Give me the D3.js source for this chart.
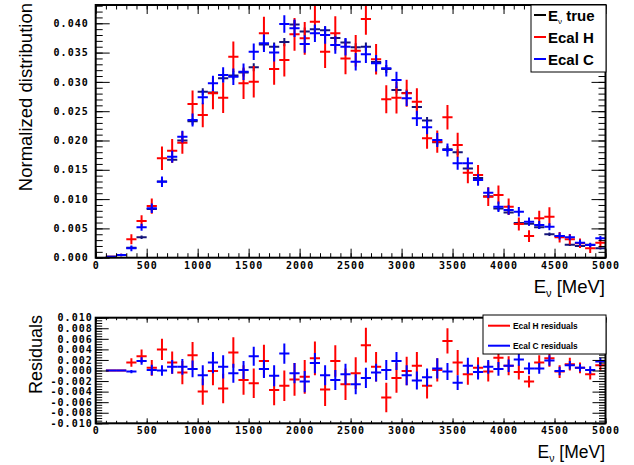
<!DOCTYPE html>
<html><head><meta charset="utf-8">
<script src="https://cdn.jsdelivr.net/npm/d3@7"></script>
<style>body{margin:0;background:#fff}svg{display:block}</style>
</head><body>
<svg id="c" width="634" height="465"></svg>
<script>
// ---- data (bin centers every 100 MeV, bin width 100) ----
const binCenters = d3.range(50, 5000, 100);
const binWidth = 100;
const trueVals = [0,0.00017,0.00046,0.0017,0.0035,0.0083,0.0130,0.0167,0.0200,0.0233,0.0283,0.0282,0.0306,0.0311,0.0316,0.0325,0.0364,0.0360,0.0368,0.0398,0.0386,0.0390,0.0388,0.0375,0.0367,0.0359,0.0360,0.0334,0.0322,0.0286,0.0281,0.0257,0.0234,0.0197,0.0185,0.0180,0.0152,0.0136,0.0105,0.0084,0.0077,0.0059,0.0058,0.0052,0.0040,0.0037,0.0022,0.0020,0.0022,0.0016];
const redVals = [0,0.00017,0.00046,0.00314,0.00626,0.00882,0.01696,0.01826,0.01963,0.02623,0.02435,0.02805,0.0273,0.0343,0.02976,0.03003,0.0383,0.0322,0.03374,0.03812,0.03744,0.04027,0.03515,0.0383,0.034,0.03532,0.04073,0.03386,0.02703,0.0273,0.02805,0.02662,0.02038,0.0198,0.02396,0.01923,0.0145,0.01411,0.01041,0.0107,0.0087,0.00575,0.0037,0.00672,0.007,0.00348,0.00314,0.00246,0.0016,0.00256];
const redErr = [0,0.0001,0.0002,0.00085,0.001,0.0013,0.002,0.002,0.0019,0.0023,0.0021,0.0027,0.0026,0.0026,0.0027,0.0027,0.0028,0.0027,0.0028,0.0028,0.0028,0.0028,0.0028,0.0029,0.0027,0.0027,0.0027,0.0026,0.0024,0.0027,0.0023,0.0023,0.0018,0.0019,0.0021,0.0021,0.0018,0.0017,0.0016,0.0016,0.0014,0.0011,0.001,0.0013,0.0016,0.0009,0.0009,0.0008,0.0008,0.0008];
const blueVals = [0,0.00017,0.00046,0.0016,0.0052,0.00843,0.01297,0.01724,0.02065,0.0235,0.02737,0.02976,0.03118,0.03089,0.03174,0.03515,0.03659,0.035,0.03988,0.03915,0.03647,0.03829,0.038,0.0363,0.036,0.03345,0.03471,0.03317,0.03232,0.03032,0.0272,0.02379,0.02225,0.02009,0.01838,0.01611,0.01611,0.01326,0.01109,0.0087,0.00814,0.00785,0.00614,0.00558,0.00529,0.0037,0.00348,0.00256,0.00217,0.00331];
const blueErr = [0,0.0001,0.0002,0.0005,0.0006,0.0008,0.0009,0.001,0.001,0.0011,0.0012,0.0013,0.0013,0.0014,0.0014,0.0014,0.0015,0.0015,0.0015,0.0015,0.0015,0.0015,0.0015,0.0015,0.0015,0.0015,0.0015,0.0014,0.0014,0.0014,0.0013,0.0013,0.0012,0.0012,0.0011,0.0011,0.001,0.001,0.0009,0.0009,0.0008,0.0008,0.0007,0.0007,0.0006,0.0006,0.0005,0.0005,0.0004,0.0004];
const trueErr = [0,0.00005,0.0001,0.0002,0.0003,0.0004,0.0005,0.0005,0.0006,0.0006,0.0006,0.0006,0.0007,0.0007,0.0007,0.0007,0.0007,0.0007,0.0007,0.0007,0.0007,0.0007,0.0007,0.0007,0.0007,0.0007,0.0007,0.0007,0.0007,0.0006,0.0006,0.0006,0.0006,0.0005,0.0005,0.0005,0.0005,0.0004,0.0004,0.0004,0.0003,0.0003,0.0003,0.0003,0.0003,0.0002,0.0002,0.0002,0.0002,0.0002];
const redRes = [0,0,0,0.0015,0.0027,0.0005,0.004,0.0015,-0.0004,0.0029,-0.004,-0.0001,-0.0034,0.0034,-0.0018,-0.0024,0.0018,-0.0037,-0.0029,-0.0017,-0.0012,0.0023,-0.0036,0.0018,-0.0026,-0.0005,0.0048,0.0007,-0.0051,-0.0014,-0.0001,0.0009,-0.0029,0.0001,0.0056,0.0015,-0.0007,0.0005,-0.0002,0.0024,0.0009,-0.0003,-0.0021,0.0015,0.0023,-0.0002,0.0012,0.0005,-0.0007,0.001];
const redResErr = [0,0,0.0001,0.0008,0.0013,0.0015,0.002,0.0021,0.0022,0.0025,0.0025,0.0027,0.0028,0.0029,0.0028,0.0028,0.0031,0.0029,0.0029,0.0031,0.0032,0.0032,0.0031,0.003,0.003,0.003,0.0033,0.0028,0.0028,0.0028,0.0027,0.0026,0.0024,0.0022,0.0024,0.0024,0.002,0.002,0.0019,0.0019,0.0018,0.0014,0.0011,0.0014,0.0016,0.0012,0.0012,0.001,0.001,0.001];
const blueRes = [0,0,0,-0.0002,0.0018,0.0001,0,0.0007,0.0007,0.0003,-0.0009,0.0015,0.0007,-0.0005,0.0001,0.0027,0.0003,-0.001,0.0032,-0.0005,-0.0021,0.0014,-0.0009,-0.0018,-0.0007,-0.0026,-0.0014,-0.0004,0.0001,0.0018,-0.0009,-0.0019,-0.0013,0.0004,-0.0002,-0.0023,0.0009,-0.0003,0.0007,0.0003,0.0009,0.0021,0.0004,0.0004,0.0019,-0.0001,0.001,0.0005,0.0001,0.0017];
const blueResErr = [0,0,0.0001,0.0003,0.0007,0.001,0.001,0.0013,0.0015,0.0016,0.0019,0.002,0.0022,0.0018,0.0017,0.0018,0.0017,0.002,0.0019,0.0019,0.002,0.0019,0.0019,0.0019,0.002,0.0019,0.0019,0.0017,0.0019,0.0017,0.0019,0.0017,0.0017,0.0019,0.0016,0.0014,0.0015,0.0014,0.0013,0.0013,0.0012,0.0012,0.0011,0.001,0.001,0.0008,0.0008,0.0007,0.0007,0.0007];

const xTicks = [0,500,1000,1500,2000,2500,3000,3500,4000,4500,5000];
const yTopTicks = [0,0.005,0.010,0.015,0.020,0.025,0.030,0.035,0.040];
const yBotTicks = [-0.010,-0.008,-0.006,-0.004,-0.002,0,0.002,0.004,0.006,0.008,0.010];
const legendTop = ["true","Ecal H","Ecal C"];
const legendBot = ["Ecal H residuals","Ecal C residuals"];

// ---- layout ----
const svg = d3.select("#c");
const L = 95.7, R = 605.5;
const x = d3.scaleLinear().domain([0,5000]).range([L,R]);
const yT = d3.scaleLinear().domain([0,0.04312]).range([257.7,5]);
const yB = d3.scaleLinear().domain([-0.010,0.010]).range([423.3,317.7]);
const tickFont = "'DejaVu Sans Mono', monospace";

function clip(id, y0, y1){
  svg.append("clipPath").attr("id",id).append("rect")
    .attr("x",L).attr("y",y0).attr("width",R-L).attr("height",y1-y0);
}
clip("cT",5,257.7); clip("cB",317.7,423.3);

function drawSeries(g, y, vals, errs, color, skipZero){
  const data = binCenters.map((c,i)=>({c, v:vals[i], e:errs[i], i})).filter(d=> d.i>0 && (!skipZero || d.v>0));
  const s = g.append("g").attr("stroke",color).attr("stroke-width",2).attr("fill","none");
  s.selectAll("line.h").data(data).join("line").attr("class","h")
    .attr("x1",d=>x(d.c-binWidth/2)).attr("x2",d=>x(d.c+binWidth/2))
    .attr("y1",d=>y(d.v)).attr("y2",d=>y(d.v));
  s.selectAll("line.v").data(data.filter(d=>d.e>0)).join("line").attr("class","v")
    .attr("x1",d=>x(d.c)).attr("x2",d=>x(d.c))
    .attr("y1",d=>y(d.v-d.e)).attr("y2",d=>y(d.v+d.e));
}

function styleAxis(g, sw){
  g.select(".domain").remove();
  g.selectAll("line").attr("stroke","#000").attr("stroke-width",sw||1);
  g.selectAll("text").attr("font-family",tickFont).attr("font-weight","bold")
    .attr("font-size","10px").attr("letter-spacing","1px").attr("fill","#000");
}

function minorRange(a,b,step){ const r=[]; for(let v=a; v<=b+1e-9; v+=step) r.push(+v.toFixed(6)); return r; }

function panel(y, y0, y1, yTicks, yMinor, xLen, yMajLen, yMinLen, yPad, fmtY){
  const gx = svg.append("g").attr("transform",`translate(0,${y0})`);
  gx.call(d3.axisBottom(x).tickValues(xTicks).tickSizeInner(-xLen).tickSizeOuter(0).tickPadding(4).tickFormat(d3.format("d")));
  styleAxis(gx);
  const gxm = svg.append("g").attr("transform",`translate(0,${y0})`);
  gxm.call(d3.axisBottom(x).tickValues(minorRange(0,5000,100)).tickSize(-xLen/2).tickFormat(""));
  styleAxis(gxm);
  const gxt = svg.append("g").attr("transform",`translate(0,${y1})`);
  gxt.call(d3.axisTop(x).tickValues(xTicks).tickSize(-xLen).tickFormat(""));
  styleAxis(gxt);
  const gxtm = svg.append("g").attr("transform",`translate(0,${y1})`);
  gxtm.call(d3.axisTop(x).tickValues(minorRange(0,5000,100)).tickSize(-xLen/2).tickFormat(""));
  styleAxis(gxtm);
  const gy = svg.append("g").attr("transform",`translate(${L},0)`);
  gy.call(d3.axisLeft(y).tickValues(yTicks).tickSizeInner(-yMajLen).tickSizeOuter(0).tickPadding(yPad).tickFormat(fmtY));
  styleAxis(gy);
  const gym = svg.append("g").attr("transform",`translate(${L},0)`);
  gym.call(d3.axisLeft(y).tickValues(yMinor).tickSize(-yMinLen).tickFormat(""));
  styleAxis(gym);
  const gyr = svg.append("g").attr("transform",`translate(${R},0)`);
  gyr.call(d3.axisRight(y).tickValues(yTicks).tickSize(-yMajLen).tickFormat(""));
  styleAxis(gyr);
  const gyrm = svg.append("g").attr("transform",`translate(${R},0)`);
  gyrm.call(d3.axisRight(y).tickValues(yMinor).tickSize(-yMinLen).tickFormat(""));
  styleAxis(gyrm);
  svg.append("rect").attr("x",L).attr("y",y1).attr("width",R-L).attr("height",y0-y1)
    .attr("fill","none").attr("stroke","#000").attr("stroke-width",2);
}

// ---- top panel ----
const gT = svg.append("g").attr("clip-path","url(#cT)");
drawSeries(gT, yT, trueVals, trueErr, "#14147a", true);
drawSeries(gT, yT, redVals, redErr, "#ff0000", true);
drawSeries(gT, yT, blueVals, blueErr, "#0000ff", true);
panel(yT, 257.7, 5, yTopTicks, minorRange(0,0.043,0.001), 9, 14, 7, 7, d=>d.toFixed(3));

// ---- bottom panel ----
const gB = svg.append("g").attr("clip-path","url(#cB)");
drawSeries(gB, yB, redRes, redResErr, "#ff0000", false);
drawSeries(gB, yB, blueRes, blueResErr, "#0000ff", false);
panel(yB, 423.3, 317.7, yBotTicks, minorRange(-0.010,0.010,0.0005), 5, 13, 6.5, 3, d=>d.toFixed(3));

// ---- axis titles ----
function evTitle(xp, yp, fs){
  const t = svg.append("text").attr("x",xp).attr("y",yp).attr("text-anchor","end")
    .attr("font-family","'Liberation Sans', Arial, sans-serif").attr("font-size",fs+"px").attr("fill","#000");
  t.append("tspan").text("E");
  t.append("tspan").attr("font-size",(fs*0.6)+"px").attr("dy",fs*0.22).text("ν");
  t.append("tspan").attr("dy",-fs*0.22).text(" [MeV]");
}
evTitle(605, 293, 18.5);
evTitle(605, 458, 17.5);

svg.append("text").attr("transform","translate(32,3) rotate(-90)").attr("text-anchor","end")
  .attr("font-family","'Liberation Sans', Arial, sans-serif").attr("font-size","18.5px").text("Normalized distribution");
svg.append("text").attr("transform","translate(42,315) rotate(-90)").attr("text-anchor","end")
  .attr("font-family","'Liberation Sans', Arial, sans-serif").attr("font-size","18px").text("Residuals");

// ---- legends ----
const lg = svg.append("g");
lg.append("rect").attr("x",531).attr("y",5).attr("width",75).attr("height",67)
  .attr("fill","#fff").attr("stroke","#000").attr("stroke-width",1);
const lcol = ["#000","#ff0000","#0000ff"];
const lrowY = [20.5, 42.5, 64.5];
legendTop.forEach((name,i)=>{
  lg.append("line").attr("x1",534).attr("x2",546).attr("y1",lrowY[i]-5.5).attr("y2",lrowY[i]-5.5)
    .attr("stroke",lcol[i]).attr("stroke-width",2);
  const t = lg.append("text").attr("x",548).attr("y",lrowY[i])
    .attr("font-family","'Liberation Sans', Arial, sans-serif").attr("font-weight","bold").attr("font-size","15px");
  if(i===0){
    t.append("tspan").text("E");
    t.append("tspan").attr("font-size","8px").attr("dy",3).attr("font-weight","normal").text("ν");
    t.append("tspan").attr("dy",-3).text(" "+name);
  } else t.text(name);
});
const lb = svg.append("g");
lb.append("rect").attr("x",483).attr("y",315).attr("width",123).attr("height",39)
  .attr("fill","#fff").attr("stroke","#000").attr("stroke-width",1);
const lbY = [325.7, 345.7];
legendBot.forEach((name,i)=>{
  lb.append("line").attr("x1",488).attr("x2",510).attr("y1",lbY[i]).attr("y2",lbY[i])
    .attr("stroke",lcol[i+1]).attr("stroke-width",2);
  lb.append("text").attr("x",513).attr("y",lbY[i]+3)
    .attr("font-family","'Liberation Sans', Arial, sans-serif").attr("font-weight","bold").attr("font-size","8.4px").text(name);
});
</script></body></html>
